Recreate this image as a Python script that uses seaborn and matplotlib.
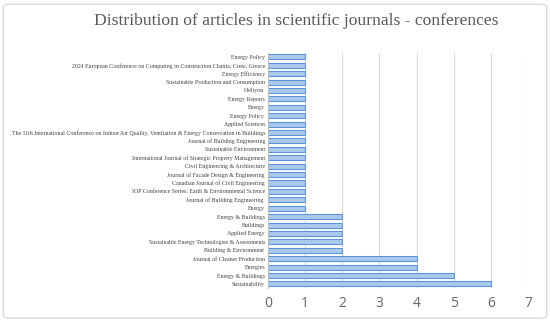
import numpy as np
import pandas as pd
import matplotlib
matplotlib.use("Agg")
import matplotlib.pyplot as plt
from matplotlib.patches import FancyBboxPatch
import seaborn as sns

# listed bottom to top, as in the picture
journals = [
    "Sustainability",
    "Energy & Buildings",
    "Energies",
    "Journal of Cleaner Production",
    "Building & Environment ",
    "Sustainable Energy Technologies & Assessments",
    "Applied Energy",
    "Buildings",
    "Energy & Buildings",
    "Energy",
    "Journal of Building Engineering ",
    "IOP Conference Series: Earth & Environmental Science",
    "Canadian Journal of Civil Engineering",
    "Journal of Facade Design & Engineering",
    "Civil Engineering & Architecture",
    "International Journal of Strategic Property Management",
    "Sustainable Environment",
    "Journal of Building Engineering",
    "The 11th International Conference on Indoor Air Quality, Ventilation & Energy Conservation in Buildings",
    "Applied Sciences",
    "Energy Policy ",
    "Energy",
    "Energy Reports",
    "Heliyon ",
    "Sustainable Production and Consumption",
    "Energy Efficiency",
    "2024 European Conference on Computing in Construction Chania, Crete, Greece",
    "Energy Policy",
]
articles = [6, 5, 4, 4, 2, 2, 2, 2, 2, 1, 1, 1, 1, 1, 1, 1, 1, 1, 1, 1, 1, 1, 1, 1, 1, 1, 1, 1]
x_ticks = [0, 1, 2, 3, 4, 5, 6, 7]
title = "Distribution of articles in scientific journals - conferences"

# names repeat, so plot on row ids and put the names back as tick labels
df = pd.DataFrame({"row": [str(i) for i in range(len(journals))], "n": articles})
order = df["row"].tolist()[::-1]

sns.set_style("white")
plt.rcParams["font.family"] = ["Liberation Serif", "DejaVu Serif"]

fig = plt.figure(figsize=(5.5, 3.23), dpi=100)
ax = fig.add_axes([0.487, 0.108, 0.473, 0.729])

sns.barplot(data=df, x="n", y="row", order=order, orient="h",
            color="#a9c9ee", edgecolor="#5b95d8", linewidth=0.8,
            width=0.6, saturation=1, ax=ax)

ax.set_yticks(range(len(order)))
ax.set_yticklabels([journals[int(r)] for r in order], fontsize=4.2, color="#404040")
ax.set_xlim(0, 7)
ax.set_xticks(x_ticks)
ax.set_xticklabels([str(t) for t in x_ticks], fontsize=10, color="#666666",
                   family=["Open Sans", "DejaVu Sans"])
ax.tick_params(axis="both", length=0)
ax.tick_params(axis="x", pad=6)
ax.tick_params(axis="y", pad=2)
ax.set_xlabel("")
ax.set_ylabel("")
ax.xaxis.grid(True, color="#d9d9d9", linewidth=0.8)
ax.set_axisbelow(True)
for side in ["top", "right", "bottom"]:
    ax.spines[side].set_visible(False)
ax.spines["left"].set_color("#bfbfbf")
ax.spines["left"].set_linewidth(0.8)

fig.text(0.539, 0.935, title, ha="center", va="center", fontsize=12.6, color="#595959")

fig.patches.append(FancyBboxPatch((0.006, 0.015), 0.988, 0.972, transform=fig.transFigure,
                                  boxstyle="round,pad=0,rounding_size=0.01",
                                  facecolor="none", edgecolor="#d9d9d9", linewidth=1))

fig.savefig("out.png", dpi=100)
